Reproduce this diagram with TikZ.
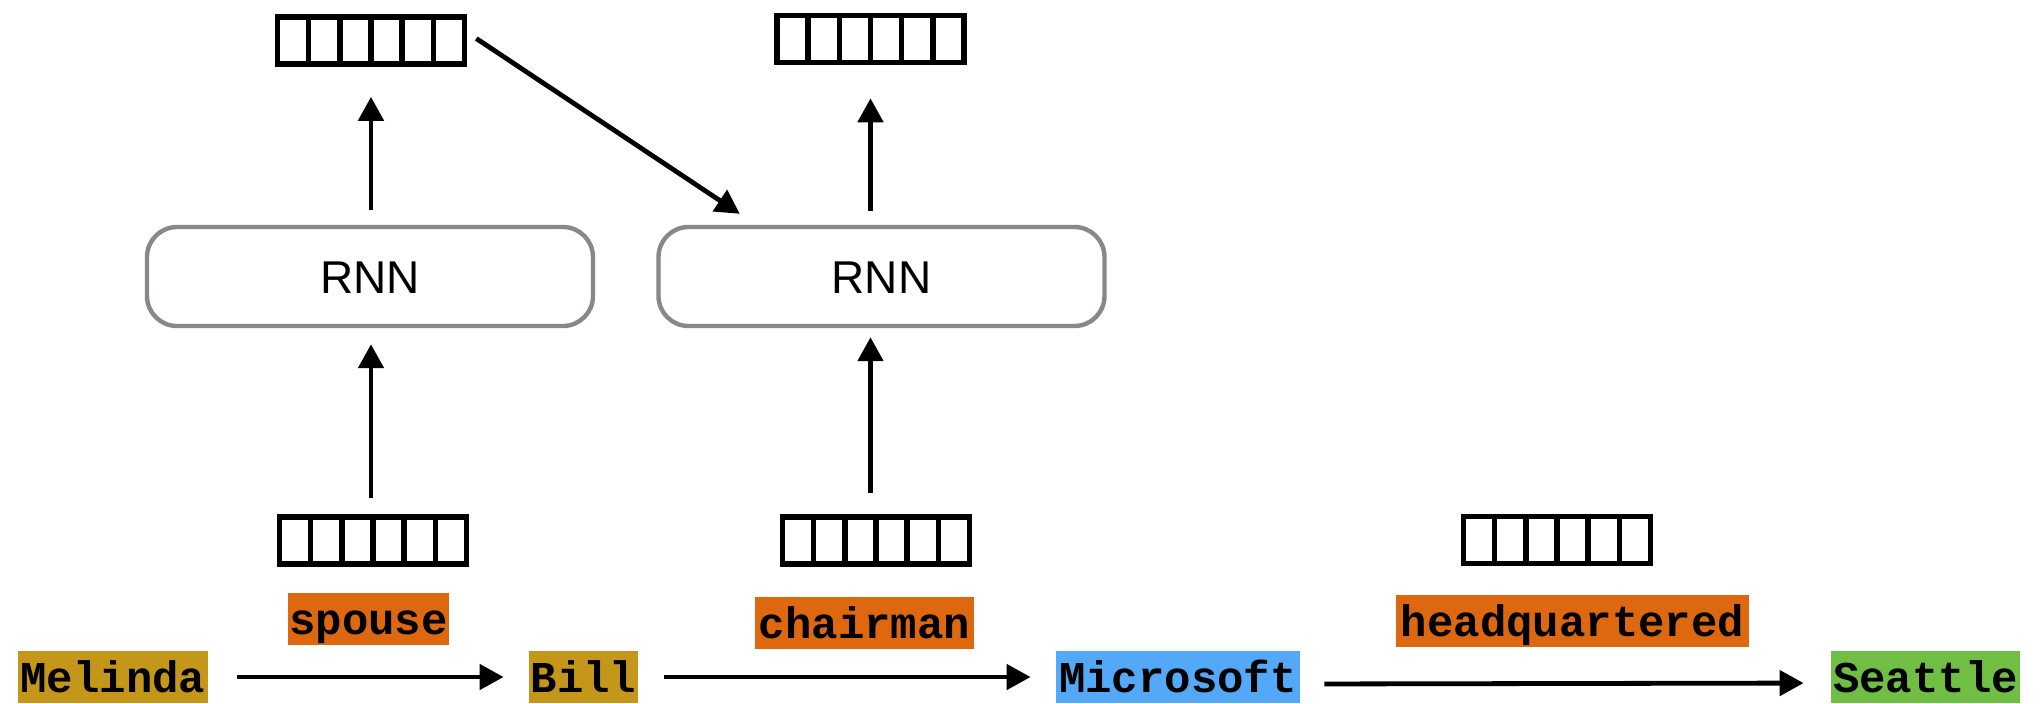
\documentclass[tikz,border=0pt]{standalone}
\usepackage{fontspec}
\usetikzlibrary{arrows.meta,calc}
\newfontfamily\monof{Liberation Mono}
\newfontfamily\sansf{Liberation Sans}
\definecolor{goldc}{RGB}{196,150,26}
\definecolor{orangec}{RGB}{222,104,16}
\definecolor{bluec}{RGB}{84,168,248}
\definecolor{greenc}{RGB}{112,190,68}
\definecolor{grayc}{RGB}{135,136,140}
\tikzset{
  vecbox/.style={draw=black, line width=2.8pt, minimum width=93.5pt, minimum height=23.5pt, inner sep=0pt,
    path picture={\foreach \i in {1,...,5}{\draw[line width=2.8pt]
      ($(path picture bounding box.south west)!\i/6!(path picture bounding box.south east)$) --
      ($(path picture bounding box.north west)!\i/6!(path picture bounding box.north east)$);}}},
  rnnbox/.style={draw=grayc, line width=2.2pt, rounded corners=15pt, minimum width=223pt, minimum height=49.5pt,
    inner sep=0pt, text height=16.5pt, text depth=0pt, font=\sansf\fontsize{23pt}{26pt}\selectfont},
  word/.style={inner sep=0pt, text height=20.5pt, text depth=5.5pt,
    font=\monof\bfseries\fontsize{22pt}{24pt}\selectfont},
  arr/.style={line width=2.4pt, -{Triangle[length=12pt,width=12.5pt]}}
}
\begin{document}
\begin{tikzpicture}[x=0.5pt,y=-0.5pt]
\useasboundingbox[fill=white] (0,0) rectangle (2042,703);
% vectors
\node[vecbox] (t1) at (371,40.5) {};
\node[vecbox] (t2) at (870.5,39) {};
\node[vecbox] (b1) at (373,540.5) {};
\node[vecbox] (b2) at (876,540.5) {};
\node[vecbox] (b3) at (1557,540) {};
% RNN boxes
\node[rnnbox] (r1) at (370,276.5) {RNN};
\node[rnnbox] (r2) at (881.5,276.5) {RNN};
% entities
\node[word, fill=goldc, minimum width=95pt] (mel) at (113,677) {Melinda};
\node[word, fill=goldc, minimum width=54.5pt] (bill) at (583.5,677) {Bill};
\node[word, fill=bluec, minimum width=122pt] (mic) at (1178,677) {Microsoft};
\node[word, fill=greenc, minimum width=94.5pt] (sea) at (1925.5,677) {Seattle};
% relations
\node[word, fill=orangec, minimum width=80.5pt] (sp) at (368.5,619) {spouse};
\node[word, fill=orangec, minimum width=109.5pt] (ch) at (864.5,623) {chairman};
\node[word, fill=orangec, minimum width=176.5pt] (hq) at (1572.5,621) {headquartered};
% bottom arrows
\draw[arr, shorten <=14.5pt, shorten >=12.5pt] (mel.east) -- (bill.west);
\draw[arr, shorten <=13pt, shorten >=12.5pt] (bill.east) -- (mic.west);
\draw[arr, shorten <=12pt, shorten >=13.5pt] ([yshift=-3.5pt]mic.east) -- ([yshift=-3pt]sea.west);
% vertical arrows
\draw[arr, shorten <=8pt, shorten >=8pt] (t1 |- b1.north) -- (t1 |- r1.south);
\draw[arr, shorten <=7.5pt, shorten >=15pt] (t1 |- r1.north) -- (t1.south);
\draw[arr, shorten <=10.5pt, shorten >=4.5pt] (t2 |- b2.north) -- (t2 |- r2.south);
\draw[arr, shorten <=7pt, shorten >=16.5pt] (t2 |- r2.north) -- (t2.south);
% diagonal
\draw[arr] ([xshift=4.5pt,yshift=1pt]t1.east) -- ([xshift=41.75pt,yshift=5.5pt]r2.north west);
\end{tikzpicture}
\end{document}
